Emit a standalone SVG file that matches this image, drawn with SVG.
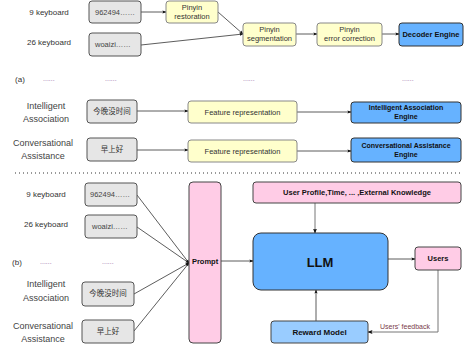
<svg xmlns="http://www.w3.org/2000/svg" width="464" height="350" viewBox="0 0 464 350">
<defs>
<style>
text{font-family:"Liberation Sans",Arial,sans-serif;fill:#222}
.lbl{font-size:8px;text-anchor:middle;fill:#333}
.lbl2{font-size:9px;text-anchor:middle;fill:#444}
.in{font-size:7.5px;fill:#444}
.cjk{font-size:7.5px;text-anchor:middle;font-family:"Liberation Sans","Noto Sans CJK SC",sans-serif;fill:#333}
.gray{fill:#e6e6e6;stroke:#555;stroke-width:1}
.yel{fill:#ffffcc;stroke:#888;stroke-width:1}
.blue{fill:#66b2ff;stroke:#333;stroke-width:1}
.lblue{fill:#99ccff;stroke:#444;stroke-width:1}
.pink{fill:#ffcce6;stroke:#444;stroke-width:1}
.t{font-size:7.5px;text-anchor:middle;fill:#333}
.b{font-size:7.5px;text-anchor:middle;font-weight:bold;fill:#111}
.dots{font-size:7px;fill:#9a6fa8}
.con{stroke:#333;stroke-width:0.8;fill:none}
.con2{stroke:#777;stroke-width:1;fill:none}
</style>
<marker id="ah" viewBox="0 0 10 10" refX="9" refY="5" markerWidth="5" markerHeight="5" orient="auto"><path d="M0,1 L10,5 L0,9 L2,5 z" fill="#111"/></marker>
</defs>

<g id="labels">
<text class="lbl" x="49" y="15">9 keyboard</text>
<text class="lbl" x="49" y="45">26 keyboard</text>
<text class="lbl" x="20" y="82">(a)</text>
<text class="dots" x="43" y="81">......</text>
<text class="dots" x="105" y="81">......</text>
<text class="dots" x="243" y="81">......</text>
<text class="dots" x="402" y="81">......</text>
<text class="lbl2" x="46" y="109">Intelligent</text>
<text class="lbl2" x="46" y="122">Association</text>
<text class="lbl2" x="43" y="146">Conversational</text>
<text class="lbl2" x="43" y="159">Assistance</text>
<text class="lbl" x="46" y="197">9 keyboard</text>
<text class="lbl" x="46" y="227">26 keyboard</text>
<text class="lbl" x="17" y="265">(b)</text>
<text class="dots" x="40" y="264">......</text>
<text class="dots" x="102" y="264">......</text>
<text class="lbl2" x="46" y="287">Intelligent</text>
<text class="lbl2" x="46" y="301">Association</text>
<text class="lbl2" x="43" y="329">Conversational</text>
<text class="lbl2" x="43" y="342">Assistance</text>
</g>

<line x1="15" y1="173" x2="461" y2="173" stroke="#333" stroke-width="1" stroke-dasharray="1,3"/>

<g id="connectors">
<line class="con" x1="141" y1="12" x2="166" y2="12" marker-end="url(#ah)"/>
<line class="con" x1="218" y1="12" x2="243" y2="34" marker-end="url(#ah)"/>
<line class="con" x1="141" y1="45" x2="243" y2="34" marker-end="url(#ah)"/>
<line class="con" x1="296" y1="34" x2="317" y2="34" marker-end="url(#ah)"/>
<line class="con" x1="382" y1="34" x2="399" y2="34" marker-end="url(#ah)"/>
<line class="con" x1="137" y1="111" x2="188" y2="111" marker-end="url(#ah)"/>
<line class="con" x1="297" y1="112" x2="351" y2="112" marker-end="url(#ah)"/>
<line class="con" x1="137" y1="150" x2="188" y2="150" marker-end="url(#ah)"/>
<line class="con" x1="297" y1="151" x2="351" y2="151" marker-end="url(#ah)"/>
<line class="con" x1="137" y1="195" x2="189" y2="263" marker-end="url(#ah)"/>
<line class="con" x1="137" y1="227" x2="189" y2="263" marker-end="url(#ah)"/>
<line class="con" x1="134" y1="294" x2="189" y2="263" marker-end="url(#ah)"/>
<line class="con" x1="134" y1="331" x2="189" y2="263" marker-end="url(#ah)"/>
<line class="con" x1="221" y1="261" x2="253" y2="261" marker-end="url(#ah)"/>
<line class="con2" x1="315" y1="203" x2="315" y2="233" marker-end="url(#ah)"/>
<line class="con" x1="388" y1="259" x2="415" y2="259" marker-end="url(#ah)"/>
<line class="con" x1="316" y1="321" x2="316" y2="290" marker-end="url(#ah)"/>
<polyline class="con2" points="438,270 438,332 368,332" marker-end="url(#ah)"/>
<text x="405" y="329" style="font-size:7px;text-anchor:middle;fill:#7a3b4a">Users' feedback</text>
</g>

<g id="n-9key-a"><rect class="gray" x="89" y="1" width="52" height="22" rx="3"/><text class="in" x="95" y="15">962494……</text></g>
<g id="n-26key-a"><rect class="gray" x="89" y="33" width="52" height="23" rx="3"/><text class="in" x="95" y="47">woaizi……</text></g>
<g id="n-restore"><rect class="yel" x="166" y="1" width="52" height="22" rx="3"/><text class="t" x="192" y="10">Pinyin</text><text class="t" x="192" y="19">restoration</text></g>
<g id="n-seg"><rect class="yel" x="243" y="23" width="53" height="23" rx="3"/><text class="t" x="269.5" y="32">Pinyin</text><text class="t" x="269.5" y="41">segmentation</text></g>
<g id="n-err"><rect class="yel" x="317" y="23" width="65" height="23" rx="3"/><text class="t" x="349.5" y="32">Pinyin</text><text class="t" x="349.5" y="41">error correction</text></g>
<g id="n-decoder"><rect class="blue" x="399" y="23" width="64" height="23" rx="3"/><text class="b" x="431" y="37">Decoder Engine</text></g>

<g id="n-ia-in-a"><rect class="gray" x="87" y="100" width="50" height="23" rx="3"/><text class="cjk" x="112" y="114">今晚没时间</text></g>
<g id="n-ca-in-a"><rect class="gray" x="87" y="138" width="50" height="23" rx="3"/><text class="cjk" x="112" y="152">早上好</text></g>
<g id="n-feat1"><rect class="yel" x="188" y="101" width="109" height="22" rx="3"/><text class="t" x="242.5" y="115">Feature representation</text></g>
<g id="n-feat2"><rect class="yel" x="188" y="140" width="109" height="22" rx="3"/><text class="t" x="242.5" y="154">Feature representation</text></g>
<g id="n-ia-eng"><rect class="blue" x="351" y="102" width="110" height="21" rx="3"/><text class="b" x="406" y="110" style="font-size:7px">Intelligent Association</text><text class="b" x="406" y="119" style="font-size:7px">Engine</text></g>
<g id="n-ca-eng"><rect class="blue" x="351" y="138" width="110" height="24" rx="3"/><text class="b" x="406" y="148" style="font-size:7px">Conversational Assistance</text><text class="b" x="406" y="157" style="font-size:7px">Engine</text></g>

<g id="n-9key-b"><rect class="gray" x="85" y="183" width="52" height="23" rx="3"/><text class="in" x="90" y="197">962494……</text></g>
<g id="n-26key-b"><rect class="gray" x="85" y="215" width="52" height="23" rx="3"/><text class="in" x="92" y="229">woaizi……</text></g>
<g id="n-ia-in-b"><rect class="gray" x="82" y="282" width="52" height="24" rx="3"/><text class="cjk" x="108" y="296">今晚没时间</text></g>
<g id="n-ca-in-b"><rect class="gray" x="82" y="320" width="52" height="23" rx="3"/><text class="cjk" x="108" y="334">早上好</text></g>
<g id="n-prompt"><rect class="pink" x="189" y="182" width="32" height="161" rx="4"/><text class="b" x="205" y="264">Prompt</text></g>
<g id="n-profile"><rect class="pink" x="253" y="182" width="208" height="21" rx="3"/><text class="b" x="357" y="195">User Profile,Time, ... ,External Knowledge</text></g>
<g id="n-llm"><rect class="blue" x="253" y="233" width="135" height="57" rx="8"/><text x="320" y="267" style="font-size:13px;font-weight:bold;text-anchor:middle;fill:#111">LLM</text></g>
<g id="n-users"><rect class="pink" x="415" y="247" width="46" height="23" rx="3"/><text class="b" x="438" y="261">Users</text></g>
<g id="n-reward"><rect class="lblue" x="271" y="321" width="97" height="22" rx="3"/><text class="b" x="319.5" y="335" style="font-size:8px">Reward Model</text></g>
</svg>
